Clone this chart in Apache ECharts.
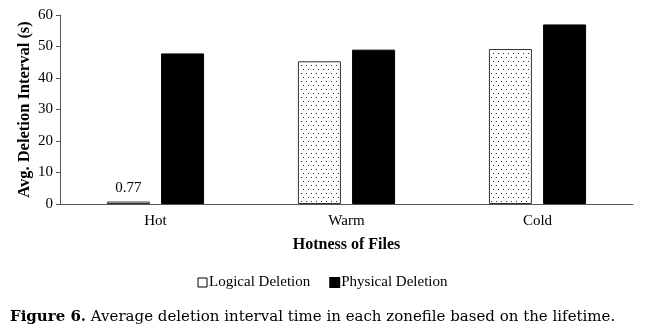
<!DOCTYPE html>
<html><head><meta charset="utf-8">
<script src="https://cdn.jsdelivr.net/npm/echarts@6/dist/echarts.min.js"></script>
<style>html,body{margin:0;padding:0;background:#fff}#c{width:645px;height:333px}</style>
</head><body><div id="c"></div>
<script>
const categories = ['Hot', 'Warm', 'Cold'];
const logicalDeletion = [0.77, 45.3, 49.2];
const physicalDeletion = [47.8, 49.0, 57.0];
const seriesNames = ['Logical Deletion', 'Physical Deletion'];

// dotted fill pattern
const pc = document.createElement('canvas');
pc.width = 5; pc.height = 8;
const px = pc.getContext('2d');
px.fillStyle = '#fff'; px.fillRect(0, 0, 5, 8);
px.fillStyle = '#333';
px.fillRect(1, 1, 1, 1);
px.fillRect(3, 5, 1, 1);

const serif = '"Liberation Serif", "Times New Roman", serif';
const chart = echarts.init(document.getElementById('c'), null, {renderer: 'canvas'});
chart.setOption({
  animation: false,
  textStyle: {fontFamily: serif, color: '#000'},
  grid: {left: 60, right: 12, top: 15, bottom: 129, containLabel: false},
  xAxis: {
    type: 'category', data: categories,
    axisLine: {lineStyle: {color: '#555', width: 1}},
    axisTick: {show: false},
    axisLabel: {fontFamily: serif, fontSize: 15, color: '#000', margin: 10},
    name: 'Hotness of Files', nameLocation: 'middle', nameGap: 33,
    nameTextStyle: {fontFamily: serif, fontSize: 16, fontWeight: 'bold', color: '#000'}
  },
  yAxis: {
    type: 'value', min: 0, max: 60, interval: 10,
    axisLine: {show: true, lineStyle: {color: '#555', width: 1}},
    axisTick: {show: true, length: 4, lineStyle: {color: '#555'}},
    splitLine: {show: false},
    axisLabel: {fontFamily: serif, fontSize: 15, color: '#000', margin: 7},
    name: 'Avg. Deletion Interval (s)', nameLocation: 'middle', nameGap: 27,
    nameMoveOverlap: false,
    nameTextStyle: {fontFamily: serif, fontSize: 16.5, fontWeight: 'bold', color: '#000'}
  },
  legend: {
    bottom: 38, left: 'center',
    itemWidth: 9, itemHeight: 9, itemGap: 19, icon: 'rect',
    textStyle: {fontFamily: serif, fontSize: 15, color: '#000', padding: [0,0,0,-3]},
    data: [
      {name: seriesNames[0], itemStyle: {color: '#fff', borderColor: '#000', borderWidth: 1}},
      {name: seriesNames[1], itemStyle: {color: '#000'}}
    ]
  },
  series: [
    {
      name: seriesNames[0], type: 'bar', data: logicalDeletion,
      barWidth: 43, barGap: '26%',
      itemStyle: {color: {image: pc, repeat: 'repeat'}, borderColor: '#333', borderWidth: 1},
      label: {
        show: true, position: 'top', distance: 6, fontFamily: serif, fontSize: 15, color: '#000',
        formatter: p => p.dataIndex === 0 ? String(p.value) : ''
      }
    },
    {
      name: seriesNames[1], type: 'bar', data: physicalDeletion,
      barWidth: 43,
      itemStyle: {color: '#000', borderColor: '#000', borderWidth: 1}
    }
  ],
  graphic: [{
    type: 'text', left: 10, top: 310,
    style: {
      text: '{b|Figure 6.} Average deletion interval time in each zonefile based on the lifetime.',
      font: '15px "DejaVu Serif"',
      fill: '#000',
      rich: {b: {fontWeight: 'bold', fontFamily: 'DejaVu Serif', fontSize: 15}}
    }
  }]
});
</script></body></html>
